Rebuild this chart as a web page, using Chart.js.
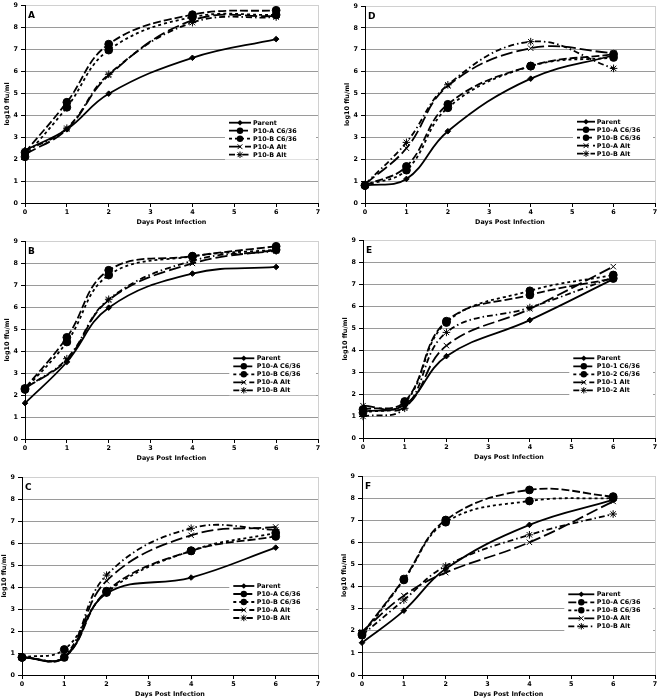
<!DOCTYPE html>
<html><head><meta charset="utf-8">
<script src="https://cdn.jsdelivr.net/npm/chart.js@4.4.1/dist/chart.umd.min.js"></script>
<style>
html,body{margin:0;padding:0;background:#fff;}
#wrap{position:relative;width:661px;height:700px;overflow:hidden;background:#fff;}
canvas{position:absolute;}
</style></head><body><div id="wrap"></div>
<script>
// ---- data ----
const days = [0, 1, 2, 4, 6];
const xTicks = [0, 1, 2, 3, 4, 5, 6, 7];
const yTicks = [0, 1, 2, 3, 4, 5, 6, 7, 8, 9];
const labelsAB = ['Parent', 'P10-A C6/36', 'P10-B C6/36', 'P10-A Alt', 'P10-B Alt'];
const labelsE = ['Parent', 'P10-1 C6/36', 'P10-2 C6/36', 'P10-1 Alt', 'P10-2 Alt'];
const xTitle = 'Days Post Infection';
const yTitle = 'log10 ffu/ml';

const aParent = [2.4, 3.35, 4.97, 6.6, 7.45];
const aC6A = [2.3, 4.58, 7.22, 8.56, 8.76];
const aC6B = [2.1, 4.35, 6.95, 8.45, 8.55];
const aAltA = [2.2, 3.35, 5.8, 8.3, 8.5];
const aAltB = [2.35, 3.4, 5.85, 8.2, 8.45];

const dParent = [0.8, 1.1, 3.28, 5.68, 6.75];
const dC6A = [0.8, 1.67, 4.51, 6.26, 6.8];
const dC6B = [0.8, 1.5, 4.35, 6.25, 6.65];
const dAltA = [0.85, 2.5, 5.35, 7.07, 6.85];
const dAltB = [0.85, 2.77, 5.4, 7.37, 6.15];

const bParent = [1.63, 3.5, 5.97, 7.52, 7.82];
const bC6A = [2.3, 4.62, 7.67, 8.31, 8.76];
const bC6B = [2.25, 4.41, 7.45, 8.3, 8.6];
const bAltA = [2.3, 3.6, 6.31, 7.98, 8.6];
const bAltB = [2.3, 3.65, 6.35, 8.1, 8.55];

const eParent = [1.2, 1.51, 3.72, 5.36, 7.22];
const eC6A = [1.3, 1.66, 5.31, 6.5, 7.25];
const eC6B = [1.15, 1.6, 5.25, 6.69, 7.41];
const eAltA = [1.47, 1.4, 4.2, 5.87, 7.79];
const eAltB = [0.98, 1.35, 4.8, 5.93, 7.3];

const cParent = [0.8, 0.8, 3.7, 4.43, 5.79];
const cC6A = [0.8, 0.8, 3.81, 5.64, 6.3];
const cC6B = [0.8, 1.16, 3.75, 5.65, 6.46];
const cAltA = [0.8, 0.8, 4.28, 6.35, 6.73];
const cAltB = [0.8, 0.85, 4.54, 6.67, 6.6];

const fParent = [1.46, 2.91, 4.8, 6.79, 7.92];
const fC6A = [1.86, 4.34, 7.01, 8.37, 8.07];
const fC6B = [1.8, 4.3, 6.91, 7.87, 8.0];
const fAltA = [1.96, 3.59, 4.63, 6.0, 7.85];
const fAltB = [1.8, 3.39, 4.93, 6.34, 7.28];

// ---- styles ----
const seriesStyles = [
  {dash: [], pointStyle: 'rectRot', radius: 2.8},
  {dash: [8, 3], pointStyle: 'circle', radius: 3.9},
  {dash: [3, 3], pointStyle: 'circle', radius: 3.9},
  {dash: [12, 4], pointStyle: 'crossRot', radius: 3.8},
  {dash: [6, 3, 1.5, 3], pointStyle: 'star', radius: 3.8}
];
const FONT = 'DejaVu Sans';
const FS = 6.4;

const panels = [
  {letter: 'A', L: 25, R: 318, T: 5, B: 203, labels: labelsAB, series: [aParent, aC6A, aC6B, aAltA, aAltB], legLine: 89, legLen: 22, legText: 65, legTop: 117.7},
  {letter: 'D', L: 365, R: 655, T: 6, B: 203, labels: labelsAB, series: [dParent, dC6A, dC6B, dAltA, dAltB], legLine: 78, legLen: 18, legText: 58.3, legTop: 115.7},
  {letter: 'B', L: 25, R: 318, T: 241, B: 439, labels: labelsAB, series: [bParent, bC6A, bC6B, bAltA, bAltB], legLine: 84.7, legLen: 21, legText: 61.3, legTop: 117.3},
  {letter: 'E', L: 363, R: 655, T: 240, B: 438, labels: labelsE, series: [eParent, eC6A, eC6B, eAltA, eAltB], legLine: 81.7, legLen: 21, legText: 58.3, legTop: 118.3},
  {letter: 'C', L: 22, R: 318, T: 477, B: 675, labels: labelsAB, series: [cParent, cC6A, cC6B, cAltA, cAltB], legLine: 84.7, legLen: 21, legText: 61.3, legTop: 109},
  {letter: 'F', L: 362, R: 655, T: 476, B: 675, labels: labelsAB, series: [fParent, fC6A, fC6B, fAltA, fAltB], legLine: 86.7, legLen: 26, legText: 58.3, legTop: 118.3}
];

function drawMarker(ctx, style, r, x, y) {
  ctx.save();
  ctx.fillStyle = '#000'; ctx.strokeStyle = '#000'; ctx.lineWidth = 1; ctx.setLineDash([]);
  ctx.beginPath();
  if (style === 'circle') { ctx.arc(x, y, r, 0, Math.PI * 2); ctx.fill(); }
  else if (style === 'rectRot') { ctx.moveTo(x, y - r); ctx.lineTo(x + r, y); ctx.lineTo(x, y + r); ctx.lineTo(x - r, y); ctx.closePath(); ctx.fill(); }
  else if (style === 'crossRot') { const d = r * 0.75; ctx.moveTo(x - d, y - d); ctx.lineTo(x + d, y + d); ctx.moveTo(x + d, y - d); ctx.lineTo(x - d, y + d); ctx.stroke(); }
  else { const d = r * 0.75; ctx.moveTo(x - d, y - d); ctx.lineTo(x + d, y + d); ctx.moveTo(x + d, y - d); ctx.lineTo(x - d, y + d); ctx.moveTo(x, y - r); ctx.lineTo(x, y + r); ctx.moveTo(x - r, y); ctx.lineTo(x + r, y); ctx.stroke(); }
  ctx.restore();
}

function makePlugin(p) {
  return {
    id: 'decor' + p.letter,
    beforeDatasetsDraw(chart) {
      const {ctx, chartArea: a} = chart;
      ctx.save();
      ctx.strokeStyle = '#d0d0d0'; ctx.lineWidth = 1;
      ctx.beginPath();
      const xr = Math.round(a.right) + 0.5;
      ctx.moveTo(xr, a.top); ctx.lineTo(xr, a.bottom);
      ctx.stroke();
      ctx.restore();
    },
    afterDatasetsDraw(chart) {
      const {ctx, chartArea: a} = chart;
      ctx.save();
      ctx.fillStyle = '#000';
      ctx.font = 'bold 9px "' + FONT + '"';
      ctx.textAlign = 'left'; ctx.textBaseline = 'alphabetic';
      ctx.fillText(p.letter, a.left + 3, a.top + 13);
      const x0 = a.right - p.legLine, y0 = a.top + p.legTop;
      ctx.fillStyle = '#fff';
      ctx.fillRect(x0 - 4, y0 - 5, a.right - (x0 - 4) - 2, 8 * 4 + 10);
      chart.data.datasets.forEach((ds, i) => {
        const y = y0 + i * 8;
        ctx.save();
        ctx.strokeStyle = '#000'; ctx.lineWidth = ds.borderWidth; ctx.setLineDash(ds.borderDash || []);
        ctx.beginPath(); ctx.moveTo(x0, y); ctx.lineTo(x0 + p.legLen, y); ctx.stroke();
        ctx.restore();
        drawMarker(ctx, ds.pointStyle, Math.min(ds.pointRadius, 3.2), x0 + p.legLen / 2, y);
        ctx.fillStyle = '#000';
        ctx.font = 'bold ' + FS + 'px "' + FONT + '"';
        ctx.textAlign = 'left'; ctx.textBaseline = 'middle';
        ctx.fillText(ds.label, a.right - p.legText, y + 0.5);
      });
      ctx.restore();
    }
  };
}

const wrap = document.getElementById('wrap');
panels.forEach(p => {
  const cv = document.createElement('canvas');
  const w = p.R - p.L + 40, h = p.B - p.T + 40;
  cv.width = w; cv.height = h;
  cv.style.width = w + 'px'; cv.style.height = h + 'px';
  cv.style.left = (p.L - 30) + 'px'; cv.style.top = (p.T - 10) + 'px';
  wrap.appendChild(cv);
  const datasets = p.series.map((arr, i) => ({
    label: p.labels[i],
    data: days.map((d, j) => ({x: d, y: arr[j]})),
    borderColor: '#000', backgroundColor: '#000',
    borderWidth: 1.8, borderDash: seriesStyles[i].dash,
    pointStyle: seriesStyles[i].pointStyle, pointRadius: seriesStyles[i].radius,
    pointBorderWidth: 1, pointBackgroundColor: '#000', pointBorderColor: '#000',
    tension: 0.4, fill: false, clip: false
  }));
  const tickFont = {family: FONT, size: FS, weight: 'bold'};
  new Chart(cv, {
    type: 'line',
    data: {datasets},
    options: {
      responsive: false, animation: false, devicePixelRatio: 1,
      layout: {padding: {top: 10, right: 10, left: 0, bottom: 0}},
      plugins: {legend: {display: false}, tooltip: {enabled: false}},
      elements: {line: {capBezierPoints: true}},
      scales: {
        x: {
          type: 'linear', min: 0, max: 7,
          afterBuildTicks(s) { s.ticks = xTicks.map(v => ({value: v})); },
          ticks: {font: tickFont, color: '#000', padding: 2, maxRotation: 0, autoSkip: false},
          grid: {drawOnChartArea: false, drawTicks: true, tickLength: 4, tickColor: '#000'},
          border: {color: '#000', width: 1},
          title: {display: true, text: xTitle, color: '#000', font: tickFont, padding: {top: 0, bottom: 7.2}},
          afterFit(s) { s.height = 30; }
        },
        y: {
          type: 'linear', min: 0, max: 9,
          afterBuildTicks(s) { s.ticks = yTicks.map(v => ({value: v})); },
          ticks: {font: tickFont, color: '#000', padding: 3},
          grid: {
            color: c => (c.tick && c.tick.value === 9) ? '#d0d0d0' : '#9a9a9a',
            tickColor: '#000', tickLength: 4, lineWidth: 1
          },
          border: {color: '#000', width: 1},
          title: {display: true, text: yTitle, color: '#000', font: tickFont, padding: {top: 8.7, bottom: 0}},
          afterFit(s) { s.width = 30; }
        }
      }
    },
    plugins: [makePlugin(p)]
  });
});
</script>
</body></html>
